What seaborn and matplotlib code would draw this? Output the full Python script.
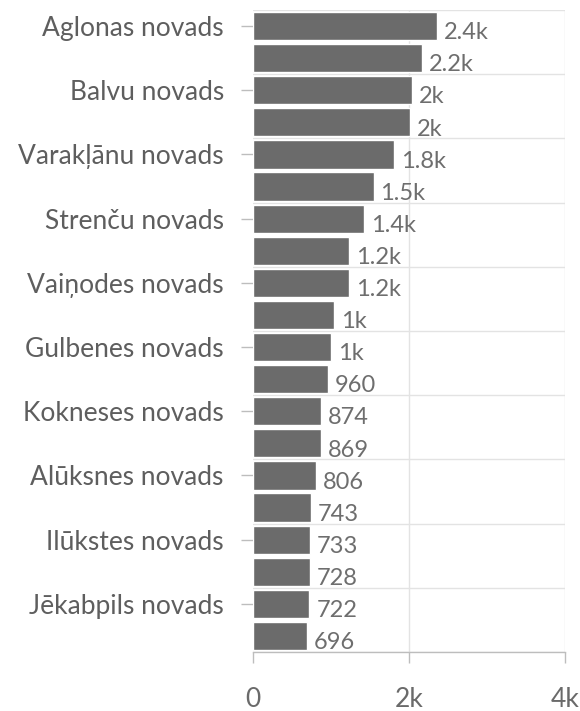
import matplotlib
matplotlib.use("Agg")
import matplotlib.pyplot as plt
import seaborn as sns
import pandas as pd

categories = ["Aglonas novads", "", "Balvu novads", "", "Varakļānu novads", "",
              "Strenču novads", "", "Vaiņodes novads", "", "Gulbenes novads", "",
              "Kokneses novads", "", "Alūksnes novads", "", "Ilūkstes novads", "",
              "Jēkabpils novads", ""]
values = [2362, 2168, 2042, 2008, 1814, 1545, 1425, 1232, 1228, 1033,
          1000, 960, 874, 869, 806, 743, 733, 728, 722, 696]
x_ticks = [0, 2000, 4000]
x_tick_labels = ["0", "2k", "4k"]

def fmt(v):
    if v >= 1000:
        s = f"{v/1000:.2g}"
        return s + "k"
    return f"{v:d}"

df = pd.DataFrame({"rank": list(range(len(values))), "value": values})

sns.set_style("white")
plt.rcParams['font.family'] = ['Lato', 'DejaVu Sans']

DPI = 100
fig = plt.figure(figsize=(5.8, 7.11), dpi=DPI)
ax = fig.add_axes([253/580, 59/711, (565-253)/580, (652-10)/711])

sns.barplot(data=df, x="value", y="rank", orient="h", color="#6b6b6b",
            saturation=1, width=0.88, ax=ax, native_scale=False)

ax.set_xlim(0, 4000)
ax.set_ylim(len(values) - 0.5, -0.5)

# gridlines
for x in x_ticks[1:]:
    ax.axvline(x, color="#e3e3e3", lw=1, zorder=0)
for y in range(-1, len(values), 2):
    ax.axhline(y + 0.5, color="#e3e3e3", lw=1, zorder=0)

for i, v in enumerate(values):
    ax.annotate(fmt(v), xy=(v, i + 0.41), xytext=(5, 0),
                textcoords="offset points", ha="left", va="baseline",
                fontsize=17, color="#6e6e6e")

ax.set_xticks(x_ticks)
ax.set_xticklabels(x_tick_labels)
ytick_pos = [i for i, c in enumerate(categories) if c]
ax.set_yticks(ytick_pos)
ax.set_yticklabels([categories[i] for i in ytick_pos])

ax.tick_params(axis="x", length=8, width=1, color="#bdbdbd", pad=17,
               labelsize=19, labelcolor="#6a6a6a", direction="out")
ax.tick_params(axis="y", length=9, width=1, color="#bdbdbd", pad=12,
               labelsize=19, labelcolor="#5e5e5e", direction="out")
ax.xaxis.set_ticks_position("bottom")
ax.yaxis.set_ticks_position("left")
ax.set_xlabel("")
ax.set_ylabel("")
for s in ["top", "right", "left"]:
    ax.spines[s].set_visible(False)
ax.spines["bottom"].set_color("#bdbdbd")
ax.spines["bottom"].set_linewidth(1)

fig.savefig("out.png", dpi=DPI)
